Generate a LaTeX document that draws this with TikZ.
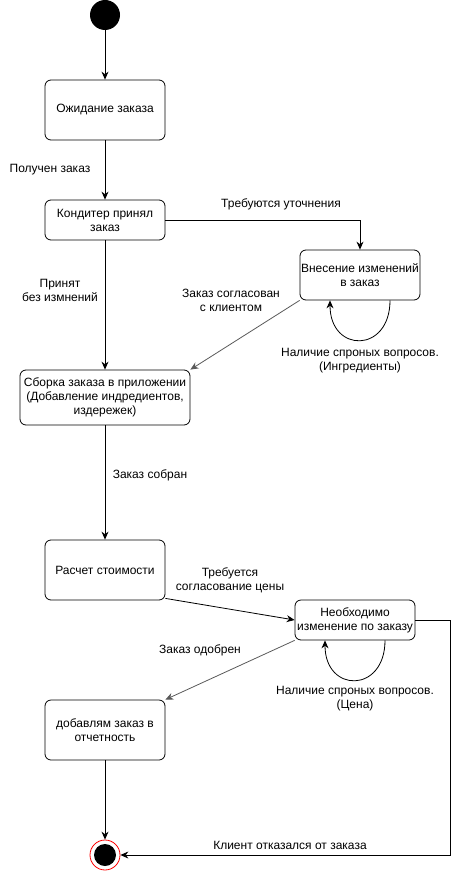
\documentclass[tikz,border=0pt]{standalone}
\usepackage{fontspec}
\setmainfont{Liberation Sans}
\usetikzlibrary{arrows.meta,calc}
\begin{document}
\begin{tikzpicture}[x=1pt,y=-1pt,
  font=\fontsize{12}{14}\selectfont,
  state/.style={draw,rounded corners=6pt,inner sep=1pt,align=center,line width=0.8pt},
  lbl/.style={align=center,inner sep=0pt},
  arr/.style={-{Stealth[length=8pt,width=7pt]},line width=0.8pt},
  garr/.style={arr,draw=black!65}]
\useasboundingbox (0,0) rectangle (460,872);
\node[circle,fill=black,minimum size=30pt,inner sep=0pt] (start) at (105,15) {};
\node[state,minimum width=120pt,minimum height=60pt] (b1) at (105,110) {Ожидание заказа};
\node[state,minimum width=120pt,minimum height=40pt] (b2) at (105,220) {Кондитер принял\\заказ};
\node[state,minimum width=120pt,minimum height=50pt] (b3) at (360,275) {Внесение изменений\\в заказ};
\node[state,minimum width=170pt,minimum height=55pt] (b4) at (105,397.5) {Сборка заказа в приложении\\(Добавление индредиентов,\\издережек)};
\node[state,minimum width=120pt,minimum height=60pt] (b5) at (105,570) {Расчет стоимости};
\node[state,minimum width=120pt,minimum height=40pt] (b6) at (355,620) {Необходимо\\изменение по заказу};
\node[state,minimum width=120pt,minimum height=60pt] (b7) at (105,730) {добавлям заказ в\\отчетность};
\node[circle,draw=red,line width=0.8pt,fill=white,minimum size=30pt,inner sep=0pt] (end) at (105,855) {};
\node[circle,fill=black,minimum size=22pt,inner sep=0pt] (endin) at (105,855) {};

\draw[arr] (start) -- (b1);
\draw[arr] (b1) -- (b2);
\draw[arr] (b2.east) -| (b3.north);
\draw[arr] (b2) -- (b4);
\draw[arr] (b4) -- (b5);
\draw[arr] (b7) -- (end);
\draw[garr] (b3.south west) -- (b4.north east);
\draw[arr] ($(b5.south east)+(0,-2)$) -- (b6.west);
\draw[garr] (b6.south west) -- (b7.north east);
\coordinate (r1) at (450,620);
\coordinate (r2) at (450,855);
\draw[arr] (b6.east) -- (r1) -- (r2) -- (end.east);
\draw[arr] ($(b3.south)+(30,0)$) .. controls ($(b3.south)+(30,53)$) and ($(b3.south)+(-30,53)$) .. ($(b3.south)+(-30,0)$);
\draw[arr] ($(b6.south)+(30,0)$) .. controls ($(b6.south)+(30,53)$) and ($(b6.south)+(-30,53)$) .. ($(b6.south)+(-30,0)$);

\node[lbl] (l1) at (50,170) {Получен заказ};
\node[lbl] (l2) at (281,204) {Требуются уточнения};
\node[lbl] (l3) at (60,290) {Принят\\без измнений};
\node[lbl] (l4) at (231,300) {Заказ согласован\\с клиентом};
\node[lbl] (l5) at (360,361) {Наличие спроных вопросов.\\(Ингредиенты)};
\node[lbl] (l6) at (150,475) {Заказ собран};
\node[lbl] (l7) at (230,580) {Требуется\\согласование цены};
\node[lbl] (l8) at (200,650) {Заказ одобрен};
\node[lbl] (l9) at (355,699) {Наличие спроных вопросов.\\(Цена)};
\node[lbl] (l10) at (290,845) {Клиент отказался от заказа};
\end{tikzpicture}
\end{document}
